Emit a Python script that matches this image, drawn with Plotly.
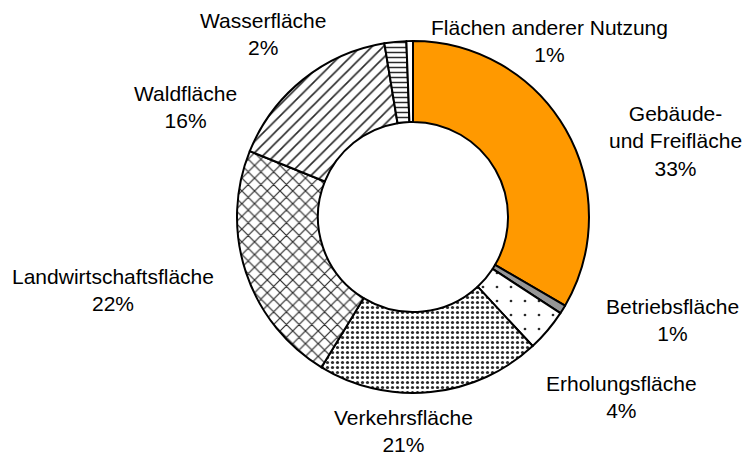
import plotly.graph_objects as go

labels = ["Gebäude- und Freifläche", "Betriebsfläche", "Erholungsfläche", "Verkehrsfläche",
          "Landwirtschaftsfläche", "Waldfläche", "Wasserfläche", "Flächen anderer Nutzung"]
label_text = ["Gebäude-<br>und Freifläche", "Betriebsfläche", "Erholungsfläche", "Verkehrsfläche",
              "Landwirtschaftsfläche", "Waldfläche", "Wasserfläche", "Flächen anderer Nutzung"]
values = [33.4, 0.8, 3.9, 20.6, 22.4, 16.3, 2.0, 0.6]

colors = ["#FF9900", "#969696", "white", "white", "white", "white", "white", "white"]
shapes = ["", "", ".", ".", "x", "/", "-", ""]
psizes = [8, 8, 14, 5, 9, 8, 5, 8]
solid = [0.3, 0.3, 0.03, 0.32, 0.25, 0.2, 0.3, 0.3]

W, H = 747, 456
cx, cy, R = 413, 217, 176

fig = go.Figure(go.Pie(
    labels=labels, values=values, sort=False, direction="clockwise", rotation=0,
    hole=0.54, textinfo="none", showlegend=False,
    domain=dict(x=[(cx - R) / W, (cx + R) / W], y=[(H - cy - R) / H, (H - cy + R) / H]),
    marker=dict(colors=colors, line=dict(color="black", width=2),
                pattern=dict(shape=shapes, size=psizes, solidity=solid,
                             fgcolor="#2a2a2a", bgcolor=colors, fillmode="replace")),
))

pos = [(675, 141), (672, 320), (621, 397), (403, 431), (113, 290), (185, 107), (263, 34), (549, 41)]
total = sum(values)
for t, v, (px, py) in zip(label_text, values, pos):
    fig.add_annotation(x=px / W, y=1 - py / H, xref="paper", yref="paper",
                       text=f"{t}<br>{round(v / total * 100)}%", showarrow=False,
                       xanchor="center", yanchor="middle", align="center",
                       font=dict(family="Liberation Sans, Arial, sans-serif", size=21, color="black"))

fig.update_layout(width=W, height=H, margin=dict(l=0, r=0, t=0, b=0),
                  paper_bgcolor="white", plot_bgcolor="white")
fig.write_html("out.html", config={"displayModeBar": False},
               post_script="document.body.style.margin='0';document.body.style.overflow='hidden';")
